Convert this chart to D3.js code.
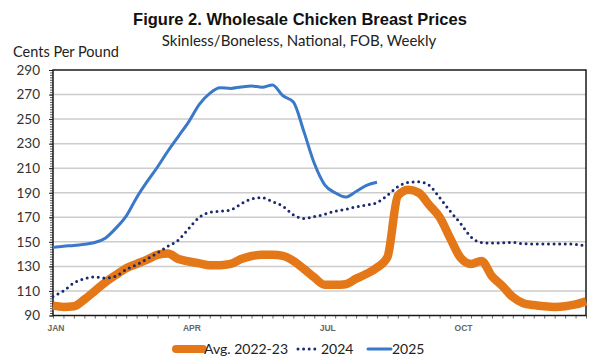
<!DOCTYPE html>
<html>
<head>
<meta charset="utf-8">
<script src="https://cdn.jsdelivr.net/npm/d3@7"></script>
<style>
  html, body { margin: 0; padding: 0; background: #fff; }
  svg { display: block; }
</style>
</head>
<body>
<svg id="chart" width="598" height="364"></svg>
<script>
// ---- Data (cents per pound, weekly, week index 0..51) ----
const avg2223 = [98, 97, 97.5, 103, 110, 117, 123, 128.5, 132, 135.5, 139.5, 140.5, 136, 134, 132.5, 131, 131, 132, 136, 138.5, 139.5, 139.5, 138.5, 134.5, 128, 121, 115, 115, 115.5, 120, 124, 129, 137.5, 187.5, 192.5, 190, 180, 170, 153, 137, 132, 134.5, 122, 114, 105, 100, 98.5, 97.5, 97, 97.5, 99, 101.5];
const y2024 = [105.5, 110, 116.5, 120, 121.5, 120.5, 122, 127.5, 131.5, 136, 141, 146.5, 151.5, 161, 170, 174, 175, 176, 181, 185, 186, 182.7, 179, 172, 169, 170.5, 172.5, 175, 176.5, 178.5, 180, 182, 188, 195, 198.5, 199, 196, 186, 175, 165, 154, 149.5, 149, 149.2, 149.5, 148.5, 148.3, 148.3, 148.3, 148.3, 148, 146.5];
const y2025 = [145.5, 146.5, 147, 148, 149.5, 153, 161, 171, 186, 199, 211, 224, 236, 248, 262, 271, 275.5, 275, 276.2, 277, 276, 277.8, 269, 264, 240, 214, 196.5, 190, 186.5, 191, 196, 198.5];
const yTicks = [90, 110, 130, 150, 170, 190, 210, 230, 250, 270, 290];
const xTickLabels = ["JAN", "APR", "JUL", "OCT"];
const xTickWeeks = [0, 13, 26, 39];
const seriesNames = ["Avg. 2022-23", "2024", "2025"];

(function () {
  const svg = d3.select("#chart");
  const pL = 53, pR = 586, pT = 70, pB = 315.5;
  const x = d3.scaleLinear().domain([0, 51]).range([pL, pR]);
  const y = d3.scaleLinear().domain([90, 290]).range([pB, pT]);

  const orange = "#E47718", navy = "#1B2A6E", blue = "#3A78C8";

  // Titles
  svg.append("text").attr("x", 300).attr("y", 25).attr("text-anchor", "middle")
    .attr("font-family", "Liberation Sans, Arial, sans-serif").attr("font-weight", "bold")
    .attr("font-size", 16.5).attr("fill", "#111").text("Figure 2. Wholesale Chicken Breast Prices");
  svg.append("text").attr("x", 299).attr("y", 46).attr("text-anchor", "middle")
    .attr("font-family", "Lato, sans-serif").attr("font-size", 15).attr("fill", "#222")
    .text("Skinless/Boneless, National, FOB, Weekly");
  svg.append("text").attr("x", 13).attr("y", 57).attr("text-anchor", "start")
    .attr("font-family", "Lato, sans-serif").attr("font-size", 14.5).attr("fill", "#222")
    .text("Cents Per Pound");

  // Gridlines
  svg.append("g").selectAll("line").data(yTicks.filter(d => d > 90 && d < 290)).join("line")
    .attr("x1", pL).attr("x2", pR).attr("y1", d => y(d)).attr("y2", d => y(d))
    .attr("stroke", "#cccccc").attr("stroke-width", 1.5);

  // Y axis with minor ticks
  const yMinor = d3.range(90, 291, 2);
  const gyMinor = svg.append("g").attr("transform", `translate(${pL},0)`)
    .call(d3.axisLeft(y).tickValues(yMinor).tickSize(3).tickFormat(""));
  gyMinor.select(".domain").remove();
  gyMinor.selectAll("line").attr("stroke", "#333").attr("stroke-width", 0.8);

  const gy = svg.append("g").attr("transform", `translate(${pL},0)`)
    .call(d3.axisLeft(y).tickValues(yTicks).tickSize(4).tickPadding(9));
  gy.select(".domain").remove();
  gy.selectAll("line").attr("stroke", "#222").attr("stroke-width", 1);
  gy.selectAll("text").attr("font-family", "Lato, sans-serif").attr("font-size", 13.5).attr("fill", "#333");

  // X axis ticks (weekly)
  const gx = svg.append("g").attr("transform", `translate(0,${pB})`)
    .call(d3.axisBottom(x).tickValues(d3.range(0, 52)).tickSize(3).tickFormat(""));
  gx.select(".domain").remove();
  gx.selectAll("line").attr("stroke", "#444").attr("stroke-width", 0.8);

  // X labels
  svg.append("g").selectAll("text").data(xTickLabels).join("text")
    .attr("x", (d, i) => x(xTickWeeks[i]) + 3).attr("y", 331).attr("text-anchor", "middle")
    .attr("font-family", "Liberation Sans, Arial, sans-serif").attr("font-size", 8.5)
    .attr("font-weight", "bold").attr("fill", "#666").text(d => d);

  // Frame
  svg.append("rect").attr("x", pL).attr("y", pT).attr("width", pR - pL).attr("height", pB - pT)
    .attr("fill", "none").attr("stroke", "#1a1a1a").attr("stroke-width", 1.5);

  // Lines
  const line = d3.line().x((d, i) => x(i)).y(d => y(d)).curve(d3.curveMonotoneX);
  svg.append("path").datum(avg2223).attr("d", line).attr("fill", "none")
    .attr("stroke", orange).attr("stroke-width", 8.5).attr("stroke-linejoin", "round").attr("stroke-linecap", "butt");
  svg.append("path").datum(y2024).attr("d", line).attr("fill", "none")
    .attr("stroke", navy).attr("stroke-width", 3).attr("stroke-dasharray", "0,5.6").attr("stroke-linecap", "round");
  svg.append("path").datum(y2025).attr("d", line).attr("fill", "none")
    .attr("stroke", blue).attr("stroke-width", 3).attr("stroke-linejoin", "round");

  // Legend
  const lg = svg.append("g").attr("font-family", "Lato, sans-serif").attr("font-size", 14).attr("fill", "#222");
  const legendItems = [
    { name: seriesNames[0], x1: 176, x2: 203, color: orange, w: 8, dash: null },
    { name: seriesNames[1], x1: 298, x2: 320, color: navy, w: 3, dash: "0,5.6" },
    { name: seriesNames[2], x1: 368, x2: 391, color: blue, w: 3, dash: null }
  ];
  legendItems.forEach(it => {
    const l = lg.append("line").attr("x1", it.x1).attr("x2", it.x2).attr("y1", 349).attr("y2", 349)
      .attr("stroke", it.color).attr("stroke-width", it.w).attr("stroke-linecap", "round");
    if (it.dash) l.attr("stroke-dasharray", it.dash);
    lg.append("text").attr("x", it.x2 + 1).attr("y", 354).text(it.name);
  });
})();
</script>
</body>
</html>
